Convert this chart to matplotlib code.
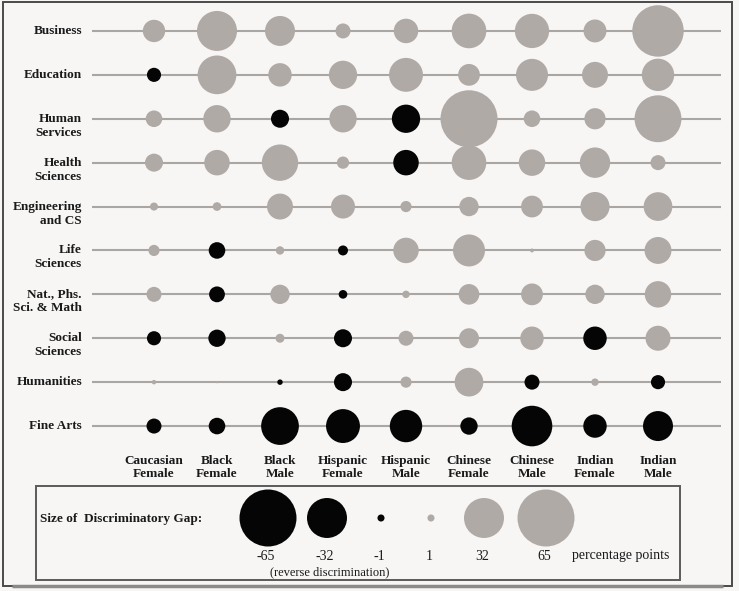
import numpy as np
import matplotlib
matplotlib.use('Agg')
import matplotlib.pyplot as plt
from matplotlib.patches import Rectangle

plt.rcParams['font.family'] = ['Liberation Serif', 'DejaVu Serif']

# gruppi (colonne) e campi di studio (righe)
groups = ['Caucasian\nFemale', 'Black\nFemale', 'Black\nMale', 'Hispanic\nFemale', 'Hispanic\nMale',
          'Chinese\nFemale', 'Chinese\nMale', 'Indian\nFemale', 'Indian\nMale']
fields = ['Business', 'Education', 'Human\nServices', 'Health\nSciences', 'Engineering\nand CS',
          'Life\nSciences', 'Nat., Phs.\nSci. & Math', 'Social\nSciences', 'Humanities', 'Fine Arts']

# gap in punti percentuali (negativo = discriminazione inversa)
business = [10, 32, 18, 4.5, 12, 24, 23.5, 10.5, 53]
education = [-4, 30, 11, 16, 23, 9.5, 20.5, 13.5, 21]
human_services = [5.5, 15, -6.5, 15, -16, 65, 5.5, 9, 44]
health_sciences = [6.5, 13, 26.5, 3, -13, 24, 14, 18.5, 4.5]
engineering_cs = [1.3, 1.5, 13.5, 11.5, 2.5, 7.5, 9.5, 17, 16.5]
life_sciences = [2.5, -5.5, 1.4, -2, 13, 20.5, 0.3, 9, 14.5]
nat_sci_math = [4.5, -5, 7.5, -1.5, 1.1, 8.5, 9.5, 7.5, 14]
social_sciences = [-4, -6, 1.6, -6.5, 4.5, 8, 11, -11, 12.5]
humanities = [0.4, 0.1, -0.6, -6.5, 2.5, 16.5, -4.5, 1.1, -4]
fine_arts = [-4.5, -5.5, -28.5, -23, -21, -6, -33, -11, -18]

# legenda
legend_values = [-65, -32, -1, 1, 32, 65]
legend_labels = ['-65', '-32', '-1', '1', '32', '65']

rows = [business, education, human_services, health_sciences, engineering_cs,
        life_sciences, nat_sci_math, social_sciences, humanities, fine_arts]
gap = np.array(rows, dtype=float)

GRAY = '#afaaa6'
BLACK = '#050505'
LINE = '#aaa6a3'
BG = '#f7f6f5'
SCALE = 25.9  # area marker (pt^2) per punto percentuale


def colori(v):
    return [BLACK if x < 0 else GRAY for x in v]


W, H = 739, 591
fig = plt.figure(figsize=(W / 100, H / 100), dpi=100, facecolor=BG)

# grafico principale
ax = fig.add_axes([92 / W, 1 - 448 / H, (721 - 92) / W, (448 - 9) / H])
ax.set_facecolor('none')
ax.set_xlim(-62 / 63, 567 / 63)
ax.set_ylim(len(fields) - 0.5, -0.5)
ax.axis('off')

for r in range(len(fields)):
    ax.axhline(r, color=LINE, lw=1.5, zorder=1)
    ax.scatter(np.arange(len(groups)), np.full(len(groups), r), s=SCALE * np.abs(gap[r]),
               c=colori(gap[r]), linewidths=0, zorder=3, clip_on=False)

for r, name in enumerate(fields):
    righe = name.split('\n')
    for k, t in enumerate(righe):
        ax.text(-1.143, r + 0.32 * k, t, ha='right', va='center', fontsize=9.5,
                fontweight='bold', color='#1a1a1a', clip_on=False)

for c, name in enumerate(groups):
    righe = name.split('\n')
    for k, t in enumerate(righe):
        ax.text(c, 9.79 + 0.31 * k, t, ha='center', va='center', fontsize=9.5,
                fontweight='bold', color='#1a1a1a', clip_on=False)

# cornice e legenda (coordinate in pixel)
ov = fig.add_axes([0, 0, 1, 1])
ov.set_facecolor('none')
ov.set_xlim(0, W)
ov.set_ylim(H, 0)
ov.axis('off')

ov.add_patch(Rectangle((3, 2), 729, 584, fill=False, ec='#4a4a4a', lw=1.4))
ov.add_patch(Rectangle((36, 486), 644, 94, fill=False, ec='#5a5a5a', lw=1.4))
ov.plot([12, 723], [585.5, 585.5], color='#8a8a8a', lw=2.5, solid_capstyle='butt')

ov.text(40, 519, 'Size of  Discriminatory Gap:', ha='left', va='center',
        fontsize=9.5, fontweight='bold', color='#1a1a1a')

leg_x = [268, 327, 381, 431, 484, 546]
ov.scatter(leg_x, [518] * len(leg_x), s=SCALE * np.abs(legend_values),
           c=colori(legend_values), linewidths=0, zorder=3)
for x, t in zip(leg_x, legend_labels):
    ov.text(x - 2, 556, t, ha='center', va='center', fontsize=10, color='#1a1a1a')
ov.text(572, 556, 'percentage points', ha='left', va='center', fontsize=10, color='#1a1a1a')
ov.text(330, 572, '(reverse discrimination)', ha='center', va='center', fontsize=9, color='#1a1a1a')

fig.savefig('out.png', dpi=100, facecolor=BG)
